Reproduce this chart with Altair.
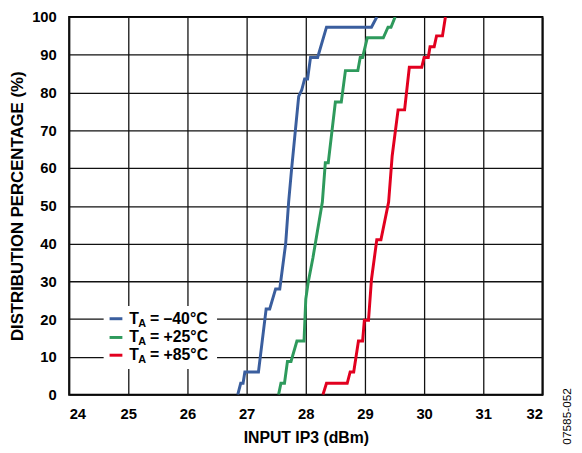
import altair as alt
import pandas as pd

# ---- data ----
blue_x = [26.85, 26.90, 26.94, 26.97, 27.20, 27.33, 27.39, 27.49, 27.56, 27.66, 27.71, 27.76, 27.88, 27.93, 27.98, 28.03, 28.08, 28.20, 28.35, 29.11, 29.20]
blue_y = [0, 3, 3, 6, 6, 22.7, 22.7, 28, 28, 40, 51, 59.7, 79, 80.6, 83.6, 83.6, 89.3, 89.3, 97.3, 97.3, 100]

green_x = [27.54, 27.58, 27.64, 27.69, 27.75, 27.85, 27.97, 28.00, 28.04, 28.12, 28.28, 28.33, 28.38, 28.50, 28.60, 28.67, 28.88, 28.92, 28.96, 29.04, 29.31, 29.39, 29.44, 29.51]
green_y = [0, 3, 3, 8.8, 8.8, 14.2, 14.2, 25.3, 29.7, 36.2, 51, 61.4, 61.4, 77.5, 77.5, 85.8, 85.8, 89.3, 89.3, 94.5, 94.5, 97.3, 97.3, 100]

red_x = [28.29, 28.35, 28.70, 28.75, 28.81, 28.89, 28.96, 28.99, 29.06, 29.11, 29.20, 29.27, 29.40, 29.46, 29.56, 29.67, 29.75, 29.96, 30.00, 30.07, 30.10, 30.17, 30.21, 30.31, 30.36]
red_y = [0, 3, 3, 6, 6, 14.2, 14.2, 19.7, 19.7, 30.5, 41, 41, 51, 63.2, 75.4, 75.4, 86.7, 86.7, 89.3, 89.3, 92.1, 92.1, 95, 95, 100]

series_names = ["–40°C", "+25°C", "+85°C"]
series_colors = ["#3a5e9e", "#2e9a5c", "#e2001f"]
x_ticks = [24, 25, 26, 27, 28, 29, 30, 31, 32]
y_ticks = [0, 10, 20, 30, 40, 50, 60, 70, 80, 90, 100]
figure_code = "07585-052"

FONT = "Liberation Sans"

rows = []
for name, xs, ys in zip(series_names, [blue_x, green_x, red_x], [blue_y, green_y, red_y]):
    for i, (xv, yv) in enumerate(zip(xs, ys)):
        rows.append({"series": name, "x": xv, "y": yv, "order": i})
df = pd.DataFrame(rows)
one = pd.DataFrame({"k": [0]})

W, H = 480, 383

xscale = alt.Scale(domain=[24, 32], nice=False, zero=False)
yscale = alt.Scale(domain=[0, 100], nice=False)

lines = alt.Chart(df).mark_line(strokeWidth=3, clip=True).encode(
    x=alt.X("x:Q", scale=xscale,
            axis=alt.Axis(values=x_ticks, title="INPUT IP3 (dBm)", format="d",
                          grid=True, gridColor="#111", gridWidth=1.3, ticks=False,
                          domain=False, labelFont=FONT, labelFontWeight="bold",
                          labelFontSize=15, labelColor="black", labelPadding=12,
                          titleFont=FONT, titleFontWeight="bold", titleFontSize=16,
                          titleColor="black", titlePadding=9)),
    y=alt.Y("y:Q", scale=yscale,
            axis=alt.Axis(values=y_ticks, title="DISTRIBUTION PERCENTAGE (%)", format="d",
                          grid=True, gridColor="#111", gridWidth=1.3, ticks=False,
                          domain=False, labelFont=FONT, labelFontWeight="bold",
                          labelFontSize=15, labelColor="black", labelPadding=13,
                          titleFont=FONT, titleFontWeight="bold", titleFontSize=17,
                          titleColor="black", titlePadding=5)),
    color=alt.Color("series:N", scale=alt.Scale(domain=series_names, range=series_colors), legend=None),
    order="order:Q",
)

# manual legend (white box, sample lines, subscripted labels)
legend_layers = [
    alt.Chart(one).mark_rect(color="white").encode(
        x=alt.value(35), x2=alt.value(150), y=alt.value(293), y2=alt.value(357))
]
row_y = [306, 325, 343]
for name, col, ry in zip(series_names, series_colors, row_y):
    legend_layers.append(alt.Chart(one).mark_rule(color=col, strokeWidth=3).encode(
        x=alt.value(41), x2=alt.value(54), y=alt.value(ry)))
    legend_layers.append(alt.Chart(one).mark_text(text="T", align="left", baseline="middle",
        font=FONT, fontWeight="bold", fontSize=16, color="black").encode(
        x=alt.value(61), y=alt.value(ry)))
    legend_layers.append(alt.Chart(one).mark_text(text="A", align="left", baseline="middle",
        font=FONT, fontWeight="bold", fontSize=11, color="black").encode(
        x=alt.value(70), y=alt.value(ry + 5)))
    legend_layers.append(alt.Chart(one).mark_text(text="= " + name, align="left", baseline="middle",
        font=FONT, fontWeight="bold", fontSize=16, color="black").encode(
        x=alt.value(82), y=alt.value(ry)))

side = alt.Chart(one).mark_text(text=figure_code, angle=270, align="center", baseline="middle",
                                font=FONT, fontSize=12, color="black").encode(
    x=alt.value(505), y=alt.value(405))

chart = alt.layer(lines, *legend_layers, side).properties(
    width=W, height=H,
    autosize=alt.AutoSizeParams(type="none"),
    padding={"left": 62, "top": 6, "right": 32, "bottom": 52},
).configure_view(stroke="black", strokeWidth=2)

chart.save("out.html", embed_options={"renderer": "svg", "actions": False})
